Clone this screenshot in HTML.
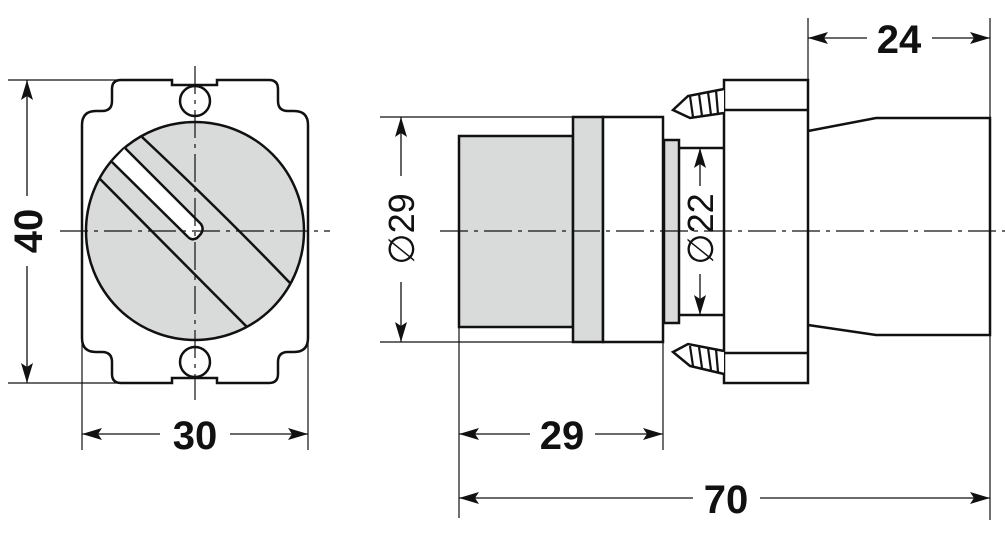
<!DOCTYPE html>
<html><head><meta charset="utf-8"><style>
html,body{margin:0;padding:0;background:#fff;}
svg{display:block;}
text{font-family:"Liberation Sans",sans-serif;fill:#111;}
</style></head><body>
<svg width="1005" height="533" viewBox="0 0 1005 533" xmlns="http://www.w3.org/2000/svg">
<defs>
<marker id="a" viewBox="0 0 20 12" refX="20" refY="6" markerWidth="20" markerHeight="12" markerUnits="userSpaceOnUse" orient="auto-start-reverse">
<path d="M0,0 L20,6 L0,12 L4,6 Z" fill="#111"/></marker>
</defs>
<g stroke="#111" fill="none">
<!-- LEFT VIEW -->
<g stroke-width="1.2">
<line x1="8" y1="80" x2="120" y2="80"/>
<line x1="8" y1="383" x2="120" y2="383"/>
<line x1="82" y1="340" x2="82" y2="450"/>
<line x1="308" y1="340" x2="308" y2="450"/>
</g>
<path stroke-width="2.5" d="M82,125 Q82,111 96,111 L102,111 Q112,111 112,101 L112,89 Q112,80 121,80 L172,80 L172,85 L217,85 L217,80 L269,80 Q278,80 278,89 L278,101 Q278,111 288,111 L294,111 Q308,111 308,125 L308,338 Q308,352 294,352 L288,352 Q278,352 278,362 L278,374 Q278,383 269,383 L217,383 L217,378 L172,378 L172,383 L121,383 Q112,383 112,374 L112,362 Q112,352 102,352 L96,352 Q82,352 82,338 Z"/>
<circle cx="195" cy="231" r="109" fill="#d9dbda" stroke-width="2.5"/>
<circle cx="195" cy="101" r="15" fill="#fff" stroke-width="2.5"/>
<circle cx="195" cy="362" r="15" fill="#fff" stroke-width="2.5"/>
<path d="M125,148 L201,224 Q205,230 199,236 L197,238 Q192,241 188,237 L112,162 Z" fill="#fff" stroke="none"/>
<g stroke-width="2.5">
<line x1="99" y1="178" x2="247" y2="327"/>
<line x1="112" y1="162" x2="188" y2="237"/>
<path d="M125,148 L201,224 Q205,230 199,236 L197,238 Q192,241 188,237"/>
<path d="M142,137 Q225,215 290,283"/>
</g>
<line x1="60" y1="231" x2="330" y2="231" stroke-width="1.2" stroke-dasharray="28,6,4,6"/>
<line x1="195" y1="66" x2="195" y2="400" stroke-width="1.2" stroke-dasharray="28,6,4,6"/>
<!-- dims left -->
<g stroke-width="1.3">
<line x1="27" y1="80" x2="27" y2="196" marker-start="url(#a)"/>
<line x1="27" y1="266" x2="27" y2="383" marker-end="url(#a)"/>
<line x1="82" y1="434" x2="160" y2="434" marker-start="url(#a)"/>
<line x1="230" y1="434" x2="308" y2="434" marker-end="url(#a)"/>
</g>
<!-- RIGHT VIEW -->
<g stroke-width="1.2">
<line x1="380" y1="117" x2="575" y2="117"/>
<line x1="380" y1="342" x2="575" y2="342"/>
<line x1="459" y1="327" x2="459" y2="518"/>
<line x1="663" y1="342" x2="663" y2="450"/>
<line x1="808" y1="18" x2="808" y2="80"/>
<line x1="990" y1="18" x2="990" y2="520"/>
</g>
<g stroke-width="2.5">
<rect x="459" y="136" width="114" height="191" fill="#d9dbda"/>
<rect x="573" y="117" width="30" height="225" fill="#d9dbda"/>
<rect x="603" y="117" width="60" height="225" fill="#fff"/>
<rect x="664" y="140" width="15" height="183" fill="#d9dbda"/>
<line x1="679" y1="148" x2="724" y2="148"/>
<line x1="679" y1="315" x2="724" y2="315"/>
<rect x="724" y="80" width="84" height="303" fill="#fff"/>
<line x1="724" y1="110" x2="808" y2="110"/>
<line x1="724" y1="353" x2="808" y2="353"/>
<path d="M808,131 L876,118 L990,118 L990,335 L876,335 L808,325"/>
<path d="M724,89 L688,96 L673,110 L690,118 L724,113" fill="#fff"/>
<path d="M724,351 L688,344 L673,352 L690,366 L724,374" fill="#fff"/>
<g stroke-width="2.2">
<line x1="690" y1="96" x2="693" y2="117"/><line x1="699" y1="94" x2="702" y2="116"/><line x1="708" y1="92" x2="711" y2="115"/><line x1="716" y1="90" x2="718" y2="114"/>
<line x1="690" y1="346" x2="693" y2="366"/><line x1="699" y1="347" x2="702" y2="368"/><line x1="708" y1="348" x2="711" y2="370"/><line x1="716" y1="349" x2="718" y2="372"/>
</g>
</g>
<line x1="440" y1="231" x2="1005" y2="231" stroke-width="1.2" stroke-dasharray="28,6,4,6"/>
<g stroke-width="1.3">
<line x1="401" y1="117" x2="401" y2="176" marker-start="url(#a)"/>
<line x1="401" y1="282" x2="401" y2="342" marker-end="url(#a)"/>
<line x1="700" y1="148" x2="700" y2="186" marker-start="url(#a)"/>
<line x1="700" y1="274" x2="700" y2="315" marker-end="url(#a)"/>
<line x1="459" y1="434" x2="530" y2="434" marker-start="url(#a)"/>
<line x1="595" y1="434" x2="663" y2="434" marker-end="url(#a)"/>
<line x1="459" y1="498" x2="693" y2="498" marker-start="url(#a)"/>
<line x1="760" y1="498" x2="990" y2="498" marker-end="url(#a)"/>
<line x1="808" y1="38" x2="867" y2="38" marker-start="url(#a)"/>
<line x1="932" y1="38" x2="990" y2="38" marker-end="url(#a)"/>
</g>
</g>
<g font-size="40" font-weight="bold" text-anchor="middle">
<text x="195" y="449">30</text>
<text x="562" y="449">29</text>
<text x="726" y="513">70</text>
<text x="899" y="53">24</text>
<text transform="translate(42,231) rotate(-90)" x="0" y="0">40</text>
</g>
<g font-size="36" text-anchor="middle">
<text transform="translate(414,229) rotate(-90)">∅29</text>
<text transform="translate(713,229) rotate(-90)">∅22</text>
</g>
</svg>
</body></html>
